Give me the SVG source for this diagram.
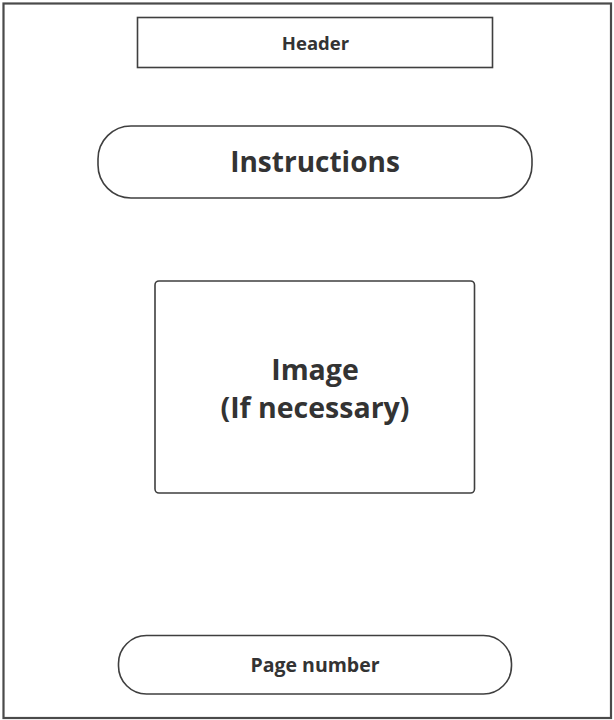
<svg xmlns="http://www.w3.org/2000/svg" width="614" height="720" viewBox="0 0 614 720">
  <style>
    .box { fill: #ffffff; stroke: #3f3f3f; stroke-width: 1.6; }
    .label { font-family: "Open Sans", "Noto Sans", sans-serif; font-weight: bold; fill: #333333; text-anchor: middle; }
  </style>
  <!-- page frame -->
  <rect x="3.5" y="3.5" width="607.5" height="714.5" fill="#ffffff" stroke="#4a4a4a" stroke-width="2.2"/>

  <g id="header">
    <rect class="box" x="137.5" y="17.5" width="355" height="50"/>
    <text class="label" x="315.5" y="49.5" font-size="18.5">Header</text>
  </g>

  <g id="instructions">
    <rect class="box" x="98" y="126" width="434" height="72" rx="33" ry="33"/>
    <text class="label" x="315" y="171.5" font-size="28">Instructions</text>
  </g>

  <g id="image">
    <rect class="box" x="155" y="281" width="319.5" height="212" rx="4" ry="4"/>
    <text class="label" x="315" y="380" font-size="28.5">Image</text>
    <text class="label" x="315" y="418" font-size="28.5">(If necessary)</text>
  </g>

  <g id="page-number">
    <rect class="box" x="118.5" y="635.5" width="393" height="58.5" rx="28" ry="28"/>
    <text class="label" x="315" y="671.5" font-size="19.5">Page number</text>
  </g>

  <g id="connectors"></g>
</svg>
